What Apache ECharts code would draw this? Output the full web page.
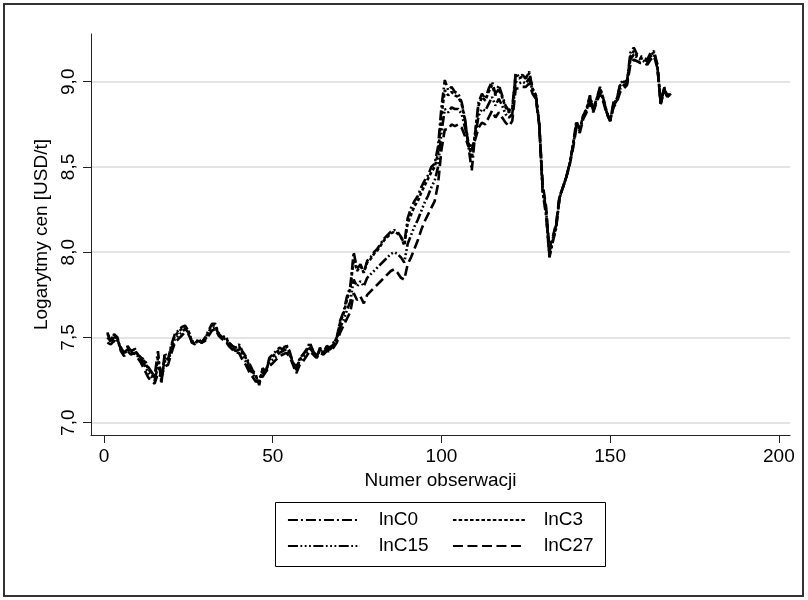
<!DOCTYPE html>
<html>
<head>
<meta charset="utf-8">
<script src="https://cdn.jsdelivr.net/npm/echarts@6/dist/echarts.min.js"></script>
<style>
html,body{margin:0;padding:0;background:#fff;}
#chart{width:808px;height:600px;}
</style>
</head>
<body>
<div id="chart"></div>
<script>
const seriesNames = ['lnC0', 'lnC3', 'lnC15', 'lnC27'];
const xTicks = [0, 50, 100, 150, 200];
const yTicks = [7.0, 7.5, 8.0, 8.5, 9.0];

const lnC0 = [7.53,7.47,7.52,7.50,7.42,7.39,7.45,7.42,7.44,7.40,7.38,7.37,7.33,7.30,7.27,7.42,7.23,7.41,7.37,7.46,
7.52,7.54,7.56,7.57,7.54,7.47,7.46,7.49,7.47,7.50,7.54,7.58,7.58,7.52,7.50,7.51,7.47,7.45,7.44,7.46,
7.42,7.39,7.35,7.31,7.28,7.22,7.32,7.30,7.38,7.40,7.42,7.44,7.43,7.46,7.42,7.35,7.31,7.38,7.40,7.43,
7.47,7.42,7.38,7.44,7.41,7.45,7.44,7.47,7.50,7.60,7.65,7.74,7.80,8.00,7.90,7.93,7.88,7.95,7.97,8.00,
8.02,8.05,8.08,8.10,8.12,8.13,8.12,8.09,8.05,8.20,8.26,8.30,8.33,8.38,8.42,8.45,8.50,8.52,8.62,8.85,
9.01,8.95,8.97,8.94,8.93,8.88,8.78,8.62,8.48,8.70,8.88,8.93,8.90,8.96,9.00,8.93,8.98,8.92,8.86,8.83,
8.85,9.05,9.03,9.04,9.02,9.06,8.96,8.92,8.75,8.35,8.22,7.97,8.06,8.14,8.32,8.38,8.44,8.52,8.63,8.77,
8.72,8.80,8.84,8.92,8.84,8.90,8.97,8.90,8.82,8.77,8.88,8.90,8.99,9.01,9.00,9.17,9.20,9.16,9.15,9.14,
9.13,9.17,9.18,9.10,8.87,8.97,8.91,8.94];

const lnC3 = [7.52,7.49,7.51,7.49,7.43,7.40,7.44,7.42,7.43,7.40,7.38,7.36,7.32,7.29,7.26,7.38,7.25,7.39,7.37,7.45,
7.51,7.53,7.55,7.56,7.54,7.48,7.46,7.49,7.47,7.50,7.53,7.57,7.57,7.52,7.50,7.50,7.47,7.45,7.44,7.45,
7.41,7.38,7.34,7.30,7.27,7.24,7.31,7.30,7.37,7.39,7.41,7.43,7.43,7.45,7.41,7.35,7.32,7.37,7.40,7.42,
7.46,7.42,7.39,7.43,7.41,7.44,7.44,7.46,7.50,7.59,7.64,7.72,7.79,7.96,7.89,7.92,7.88,7.94,7.96,7.99,
8.01,8.04,8.07,8.09,8.11,8.12,8.11,8.09,8.04,8.17,8.22,8.27,8.30,8.35,8.39,8.43,8.47,8.50,8.58,8.80,
8.95,8.92,8.94,8.92,8.91,8.87,8.77,8.64,8.55,8.70,8.86,8.91,8.89,8.94,8.98,8.92,8.96,8.91,8.85,8.82,
8.84,9.04,9.02,9.03,9.02,9.05,8.96,8.92,8.75,8.36,8.23,7.98,8.07,8.15,8.32,8.38,8.44,8.52,8.63,8.76,
8.72,8.80,8.84,8.91,8.84,8.90,8.96,8.90,8.82,8.77,8.87,8.90,8.98,9.00,9.00,9.15,9.18,9.15,9.14,9.13,
9.12,9.16,9.17,9.10,8.87,8.96,8.91,8.94];

const lnC15 = [7.50,7.48,7.50,7.48,7.44,7.41,7.43,7.41,7.42,7.39,7.37,7.34,7.30,7.27,7.25,7.33,7.28,7.36,7.36,7.43,
7.49,7.51,7.53,7.55,7.53,7.48,7.47,7.48,7.47,7.49,7.52,7.55,7.56,7.52,7.50,7.49,7.46,7.44,7.42,7.43,
7.39,7.36,7.32,7.29,7.26,7.26,7.29,7.31,7.35,7.37,7.39,7.41,7.42,7.43,7.40,7.35,7.33,7.36,7.38,7.41,
7.44,7.41,7.39,7.42,7.41,7.43,7.43,7.45,7.49,7.56,7.60,7.66,7.71,7.84,7.80,7.83,7.80,7.85,7.87,7.89,
7.91,7.93,7.95,7.97,7.99,8.00,7.99,7.97,7.94,8.05,8.10,8.15,8.19,8.24,8.29,8.33,8.38,8.42,8.50,8.70,
8.84,8.82,8.85,8.84,8.84,8.81,8.73,8.64,8.60,8.68,8.80,8.84,8.83,8.87,8.91,8.86,8.90,8.86,8.81,8.79,
8.81,9.00,8.99,9.00,8.99,9.02,8.95,8.91,8.75,8.38,8.25,8.00,8.08,8.16,8.32,8.38,8.44,8.52,8.62,8.75,
8.71,8.79,8.83,8.90,8.83,8.89,8.95,8.89,8.82,8.77,8.86,8.89,8.96,8.98,8.99,9.13,9.16,9.14,9.13,9.12,
9.11,9.15,9.16,9.09,8.87,8.96,8.91,8.93];

const lnC27 = [7.47,7.46,7.48,7.47,7.44,7.41,7.42,7.40,7.41,7.38,7.35,7.31,7.27,7.24,7.23,7.29,7.27,7.33,7.34,7.41,
7.47,7.49,7.51,7.53,7.52,7.48,7.47,7.48,7.47,7.48,7.51,7.54,7.55,7.51,7.49,7.48,7.45,7.43,7.41,7.41,
7.37,7.34,7.30,7.27,7.24,7.25,7.27,7.30,7.33,7.35,7.37,7.39,7.40,7.41,7.39,7.34,7.29,7.34,7.36,7.39,
7.42,7.40,7.38,7.41,7.40,7.42,7.42,7.44,7.47,7.53,7.57,7.61,7.65,7.76,7.72,7.74,7.70,7.75,7.77,7.79,
7.81,7.83,7.85,7.87,7.89,7.90,7.88,7.85,7.84,7.93,7.97,8.02,8.07,8.13,8.18,8.22,8.26,8.30,8.40,8.60,
8.72,8.72,8.75,8.74,8.75,8.73,8.68,8.62,8.63,8.66,8.73,8.76,8.75,8.79,8.83,8.79,8.82,8.79,8.76,8.74,
8.77,8.96,8.96,8.97,8.97,8.99,8.93,8.90,8.74,8.40,8.27,8.02,8.09,8.17,8.33,8.38,8.44,8.51,8.61,8.73,
8.70,8.78,8.82,8.88,8.82,8.88,8.93,8.88,8.81,8.77,8.85,8.88,8.94,8.96,8.98,9.10,9.13,9.12,9.11,9.11,
9.10,9.13,9.15,9.08,8.87,8.95,8.91,8.93];

const seriesValues = [lnC0, lnC3, lnC15, lnC27];
const dashes = [[10,3,2,3],[3.5,2.2],[10,2.5,1.8,2.5,1.8,2.5,1.8,2.5],[10,4.5]];

const FONT = '"Liberation Sans", Arial, sans-serif';
const chart = echarts.init(document.getElementById('chart'), null, {renderer: 'canvas'});

const series = seriesNames.map((name, k) => ({
  name: name,
  type: 'line',
  data: seriesValues[k].map((v, i) => [i + 1, v]),
  showSymbol: false,
  symbol: 'none',
  animation: false,
  lineStyle: {color: '#000', width: 2.6, type: dashes[k]},
  itemStyle: {color: '#000'},
  z: 3
}));

const legendPos = [[287, 510.5], [452, 510.5], [287, 536.5], [452, 536.5]];
const legends = seriesNames.map((name, k) => ({
  data: [name],
  left: legendPos[k][0],
  top: legendPos[k][1],
  padding: 0,
  itemWidth: 72,
  itemHeight: 14,
  selectedMode: false,
  textStyle: {fontFamily: FONT, fontSize: 19, color: '#000', padding: [0, 0, 0, 14]},
  itemStyle: {opacity: 0},
  lineStyle: {width: 1.9, opacity: 1}
}));

chart.setOption({
  animation: false,
  backgroundColor: '#fff',
  grid: {left: 91, right: 18, top: 34, bottom: 165, containLabel: false},
  legend: legends,
  graphic: [
    {type: 'rect', shape: {x: 4, y: 4, width: 799, height: 592}, style: {fill: 'none', stroke: '#333', lineWidth: 2}, silent: true, z: -1},
    {type: 'rect', shape: {x: 275.5, y: 502.5, width: 330, height: 64}, style: {fill: 'none', stroke: '#000', lineWidth: 1}, silent: true}
  ],
  xAxis: {
    type: 'value',
    min: -3.85,
    max: 203.3,
    name: 'Numer obserwacji',
    nameLocation: 'middle',
    nameGap: 31,
    nameTextStyle: {fontFamily: FONT, fontSize: 19, color: '#000'},
    axisLine: {show: true, onZero: false, lineStyle: {color: '#222', width: 1}},
    axisTick: {show: true, length: 8, customValues: xTicks, lineStyle: {color: '#222'}},
    axisLabel: {customValues: xTicks, margin: 12, fontFamily: FONT, fontSize: 19, color: '#000',
      formatter: v => String(v)},
    splitLine: {show: false}
  },
  yAxis: {
    type: 'value',
    min: 6.928,
    max: 9.28,
    name: 'Logarytmy cen [USD/t]',
    nameLocation: 'middle',
    nameRotate: 90,
    nameGap: 30,
    nameTextStyle: {fontFamily: FONT, fontSize: 19, color: '#000'},
    axisLine: {show: true, onZero: false, lineStyle: {color: '#222', width: 1}},
    axisTick: {show: true, length: 8, customValues: yTicks, lineStyle: {color: '#222'}},
    axisLabel: {customValues: yTicks, rotate: 90, margin: 13, fontFamily: FONT, fontSize: 19, color: '#000',
      formatter: v => v.toFixed(1).replace('.', ',')},
    splitLine: {show: true, lineStyle: {color: '#e4e4e4', width: 2}}
  },
  series: series
});
</script>
</body>
</html>
